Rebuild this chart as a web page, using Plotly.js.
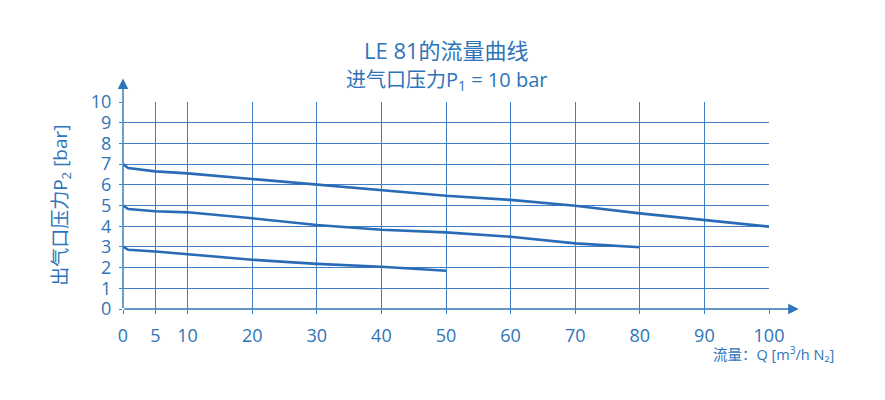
<!DOCTYPE html>
<html>
<head>
<meta charset="utf-8">
<script src="https://cdn.plot.ly/plotly-3.0.1.min.js"></script>
<style>
  html, body { margin: 0; padding: 0; background: #fff; }
  #chart { width: 885px; height: 400px; }
</style>
</head>
<body>
<div id="chart"></div>
<script>
// flow Q [m3/h N2] and outlet pressure P2 [bar]
const flow7 = [0, 0.8, 5, 10, 20, 30, 40, 50, 60, 70, 80, 90, 100];
const p2From7 = [7.0, 6.81, 6.65, 6.55, 6.28, 6.0, 5.72, 5.47, 5.27, 4.99, 4.62, 4.30, 3.98];

const flow5 = [0, 0.8, 5, 10, 20, 30, 40, 50, 60, 70, 80];
const p2From5 = [5.0, 4.83, 4.72, 4.67, 4.38, 4.06, 3.83, 3.70, 3.49, 3.17, 2.98];

const flow3 = [0, 0.8, 5, 10, 20, 30, 40, 50];
const p2From3 = [3.02, 2.86, 2.78, 2.65, 2.38, 2.18, 2.04, 1.85];

const xTicks = [0, 5, 10, 20, 30, 40, 50, 60, 70, 80, 90, 100];
const yTicks = [0, 1, 2, 3, 4, 5, 6, 7, 8, 9, 10];

const BLUE = '#2e74b8';
const GRID = '#3f7fc5';
const FONT = '"Open Sans", "Noto Sans CJK SC", sans-serif';

function curve(x, y) {
    return {
        x: x,
        y: y,
        mode: 'lines',
        line: { color: '#2a6bb6', width: 2.6 },
        hoverinfo: 'skip',
        showlegend: false
    };
}

let data = [curve(flow7, p2From7), curve(flow5, p2From5), curve(flow3, p2From3)];

let layout = {
    width: 885,
    height: 400,
    margin: { l: 123, r: 116, t: 102, b: 91 },
    paper_bgcolor: '#fff',
    plot_bgcolor: '#fff',
    font: { family: FONT, color: BLUE },
    xaxis: {
        range: [0, 100],
        tickvals: xTicks,
        ticktext: xTicks.map(String),
        showgrid: true,
        gridcolor: GRID,
        gridwidth: 1,
        zeroline: false,
        showline: false,
        ticks: 'outside',
        ticklen: 4,
        tickcolor: GRID,
        tickfont: { size: 18, color: BLUE },
        ticklabelstandoff: 6,
        fixedrange: true
    },
    yaxis: {
        range: [0, 10],
        tickvals: yTicks,
        showgrid: true,
        gridcolor: GRID,
        gridwidth: 1,
        zeroline: false,
        showline: false,
        ticks: 'outside',
        ticklen: 3,
        tickcolor: GRID,
        tickfont: { size: 18, color: BLUE },
        ticklabelstandoff: 4,
        fixedrange: true
    },
    annotations: [
        {   // title
            text: 'LE 81的流量曲线',
            xref: 'paper', yref: 'paper',
            x: 0.5, y: 1.25, xanchor: 'center', yanchor: 'middle',
            showarrow: false,
            font: { size: 22, color: BLUE }
        },
        {
            text: '进气口压力P<sub>1</sub> = 10 bar',
            xref: 'paper', yref: 'paper',
            x: 0.5, y: 1.105, xanchor: 'center', yanchor: 'middle',
            showarrow: false,
            font: { size: 20, color: BLUE }
        },
        {   // y axis title
            text: '出气口压力P<sub>2</sub> [bar]',
            xref: 'paper', yref: 'paper',
            x: -0.097, y: 0.5, xanchor: 'center', yanchor: 'middle',
            textangle: -90,
            showarrow: false,
            font: { size: 19, color: BLUE }
        },
        {   // x axis title
            text: '流量：Q [m<sup>3</sup>/h N₂]',
            xref: 'paper', yref: 'paper',
            x: 1.103, y: -0.213, xanchor: 'right', yanchor: 'middle',
            showarrow: false,
            font: { size: 14.5, color: BLUE }
        },
        {   // x axis arrow
            xref: 'paper', yref: 'paper',
            x: 1.046, y: 0, ax: -676, ay: 0,
            axref: 'pixel', ayref: 'pixel',
            text: '', showarrow: true,
            arrowhead: 2, arrowsize: 1.5, arrowwidth: 1.4, arrowcolor: BLUE
        },
        {   // y axis arrow
            xref: 'paper', yref: 'paper',
            x: 0, y: 1.113, ax: 0, ay: 231,
            axref: 'pixel', ayref: 'pixel',
            text: '', showarrow: true,
            arrowhead: 2, arrowsize: 1.5, arrowwidth: 1.4, arrowcolor: BLUE
        }
    ]
};

Plotly.newPlot('chart', data, layout, { staticPlot: true, displayModeBar: false });
</script>
</body>
</html>
